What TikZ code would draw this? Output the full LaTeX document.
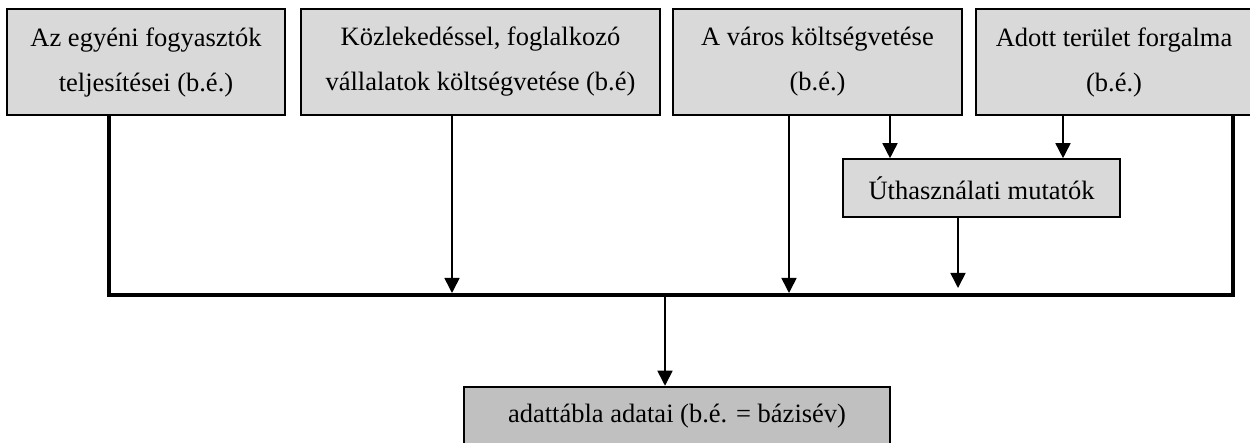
\documentclass[tikz,border=0pt]{standalone}
\usepackage{fontspec}
\setmainfont{Liberation Serif}
\usetikzlibrary{arrows.meta}
\definecolor{boxgray}{HTML}{D9D9D9}
\definecolor{outgray}{HTML}{C0C0C0}
\begin{document}
\begin{tikzpicture}[x=1pt,y=-1pt,
  topbox/.style={draw=black, line width=2.5pt, fill=boxgray, align=center, inner sep=0pt,
    minimum height=106pt, font=\fontsize{26.5}{45}\selectfont},
  midbox/.style={draw=black, line width=1.6pt, fill=boxgray, align=center, inner sep=0pt,
    minimum height=58pt, font=\fontsize{26.5}{45}\selectfont},
  outbox/.style={draw=black, line width=2.5pt, fill=outgray, align=center, inner sep=0pt,
    minimum height=59pt, font=\fontsize{26.5}{45}\selectfont},
  arr/.style={line width=1.6pt, -{Triangle[width=15pt,length=15pt]}},
  thick line/.style={line width=4pt, line cap=rect}]
\useasboundingbox (0,0) rectangle (1250,443);

\node[topbox, minimum width=278pt] (b1) at (146,62) {Az egyéni fogyasztók\\teljesítései (b.é.)};
\node[topbox, minimum width=359pt] (b2) at (480.5,62) {Közlekedéssel, foglalkozó\\vállalatok költségvetése (b.é)};
\node[topbox, minimum width=289pt] (b3) at (817.5,62) {A város költségvetése\\(b.é.)};
\node[topbox, minimum width=276pt] (b4) at (1114,62) {Adott terület forgalma\\(b.é.)};
\node[midbox, minimum width=277pt] (ut) at (981.5,188) {Úthasználati mutatók};
\node[outbox, minimum width=426pt] (out) at (677,416.5) {adattábla adatai (b.é. = bázisév)};

\coordinate (busL) at (109,295);
\coordinate (busR) at (1233,295);
\coordinate (j2) at (452,293);
\coordinate (j3) at (789,293);
\coordinate (jut) at (958,288);
\coordinate (jout) at (665,295);

% thick bus
\draw[thick line] (b1.south -| busL) -- (busL) -- (busR) -- (b4.south -| busR);

% arrows into bus
\draw[arr] (b2.south -| j2) -- (j2);
\draw[arr] (b3.south -| j3) -- (j3);
\draw[arr] (ut.south -| jut) -- (jut);

% arrows into Úthasználati mutatók
\draw[arr] (b3.south -| 890,0) -- (ut.north -| 890,0);
\draw[arr] (b4.south -| 1063,0) -- (ut.north -| 1063,0);

% bus to output
\draw[arr] (jout) -- (out.north -| jout);
\end{tikzpicture}
\end{document}
